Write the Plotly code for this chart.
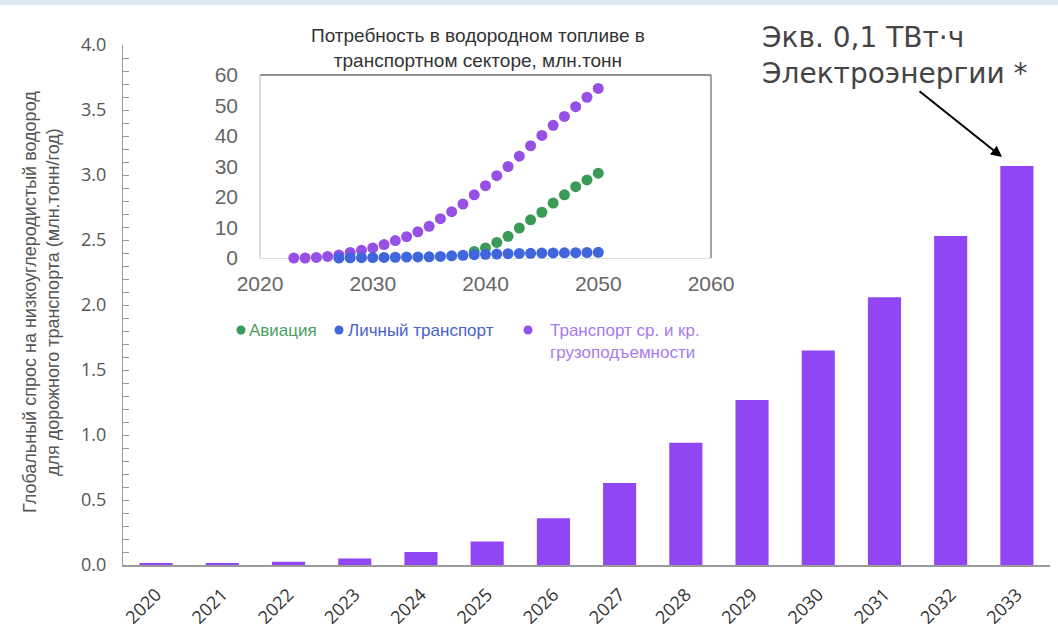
import plotly.graph_objects as go

# Main chart: global demand for low-carbon hydrogen in road transport
years = ["2020", "2021", "2022", "2023", "2024", "2025", "2026",
         "2027", "2028", "2029", "2030", "2031", "2032", "2033"]
demand = [0.012, 0.012, 0.025, 0.05, 0.10, 0.18, 0.36,
          0.63, 0.94, 1.27, 1.65, 2.06, 2.53, 3.07]

# Inset: hydrogen fuel demand in the transport sector, mln t
heavy_years = list(range(2023, 2051))
heavy = [0.0, 0.0, 0.2, 0.5, 1.0, 1.8, 2.5, 3.3, 4.4, 5.7, 7.0, 8.6, 10.4, 12.9,
         15.2, 17.7, 20.7, 23.7, 27.0, 30.0, 33.4, 36.8, 40.2, 43.5, 46.4,
         49.6, 52.7, 55.6]
aviation_years = list(range(2039, 2051))
aviation = [2.1, 3.3, 5.1, 7.1, 9.8, 12.5, 15.0, 18.0, 20.7, 23.4, 25.6, 27.8]
personal_years = list(range(2027, 2051))
personal = [0.0, 0.05, 0.1, 0.15, 0.2, 0.25, 0.3, 0.35, 0.4, 0.5, 0.7, 0.9,
            1.1, 1.2, 1.3, 1.4, 1.5, 1.55, 1.6, 1.65, 1.7, 1.75, 1.8, 1.85]

W, H = 1058, 641
ML, MR, MT, MB = 123, 8, 45, 76
PW, PH = W - ML - MR, H - MT - MB


def px_x(p):
    return (p - ML) / PW


def px_y(p):
    return (H - MB - p) / PH


BAR = "#9146F5"
PURPLE = "#9650E6"
GREEN = "#3A9A57"
BLUE = "#3F66DD"
SANS = "Liberation Sans, Arial, sans-serif"
OPEN = "Open Sans, sans-serif"

fig = go.Figure()
fig.add_trace(go.Bar(x=years, y=demand, marker=dict(color=BAR, line=dict(width=0)),
                     xaxis="x", yaxis="y", showlegend=False))

for xs, ys, col in [(heavy_years, heavy, PURPLE),
                    (aviation_years, aviation, GREEN),
                    (personal_years, personal, BLUE)]:
    fig.add_trace(go.Scatter(x=xs, y=ys, mode="markers", xaxis="x2", yaxis="y2",
                             marker=dict(size=11, color=col, line=dict(width=0)),
                             cliponaxis=False, showlegend=False))

inset_x = [px_x(260), px_x(711)]
inset_y = [px_y(258), px_y(75)]

shapes = [
    # thin band along the top edge
    dict(type="rect", xref="paper", yref="paper", x0=px_x(0), x1=px_x(W),
         y0=px_y(5), y1=px_y(0), fillcolor="#DCE7F4", line=dict(width=0), layer="below"),
    # inset frame
    dict(type="line", xref="x2 domain", yref="y2 domain", x0=0, x1=1, y0=1, y1=1,
         line=dict(color="#6E6E6E", width=1.3)),
    dict(type="line", xref="x2 domain", yref="y2 domain", x0=1, x1=1, y0=0, y1=1,
         line=dict(color="#6E6E6E", width=1.3)),
    dict(type="line", xref="x2 domain", yref="y2 domain", x0=0, x1=0, y0=0, y1=1,
         line=dict(color="#C8C8C8", width=1.3)),
    dict(type="line", xref="x2 domain", yref="y2 domain", x0=0, x1=1, y0=0, y1=0,
         line=dict(color="#D2D2D2", width=1.3), layer="below"),
]

legend_items = [
    (241, 247, "Авиация", GREEN, "#49A064"),
    (339, 346, "Личный транспорт", BLUE, "#4A61C9"),
    (528, 548, "Транспорт ср. и кр.<br>грузоподъемности", "#9350E8", "#A77BE9"),
]
annotations = []
for dot_x, text_x, label, dot_col, txt_col in legend_items:
    shapes.append(dict(type="circle", xref="paper", yref="paper",
                       xsizemode="pixel", ysizemode="pixel",
                       xanchor=px_x(dot_x), yanchor=px_y(330),
                       x0=-4.5, x1=4.5, y0=-4.5, y1=4.5,
                       fillcolor=dot_col, line=dict(width=0)))
    annotations.append(dict(xref="paper", yref="paper", x=px_x(text_x), y=px_y(319),
                            xanchor="left", yanchor="top", align="left",
                            text=label, showarrow=False,
                            font=dict(family=SANS, size=17, color=txt_col)))

annotations += [
    dict(xref="paper", yref="paper", x=px_x(478), y=px_y(48), xanchor="center",
         yanchor="middle", showarrow=False,
         text="Потребность в водородном топливе в<br>транспортном секторе, млн.тонн",
         font=dict(family=SANS, size=19, color="#333333")),
    dict(xref="paper", yref="paper", x=px_x(760), y=px_y(55), xanchor="left",
         yanchor="middle", align="left", showarrow=False,
         text="Экв. 0,1 ТВт·ч<br>Электроэнергии *",
         font=dict(family="DejaVu Sans, sans-serif", size=28, color="#444444")),
    dict(xref="paper", yref="paper", x=px_x(1002), y=px_y(157), ax=-84, ay=-67,
         text="", showarrow=True, arrowhead=2, arrowsize=1.1, arrowwidth=2,
         arrowcolor="#000000", standoff=0),
    # y-axis title of the bar chart
    dict(xref="paper", yref="paper", x=px_x(41), y=px_y(302), xanchor="center",
         yanchor="middle", textangle=-90, showarrow=False,
         text="Глобальный спрос на низкоуглеродистый водород<br>"
              "для дорожного транспорта (млн.тонн/год)",
         font=dict(family=SANS, size=18, color="#555555")),
]

fig.update_layout(
    width=W, height=H,
    margin=dict(l=ML, r=MR, t=MT, b=MB, autoexpand=False),
    paper_bgcolor="white", plot_bgcolor="white",
    bargap=0.5,
    showlegend=False,
    shapes=shapes,
    annotations=annotations,
    xaxis=dict(type="category", domain=[0, 1], showline=True, linecolor="#9A9A9A",
               linewidth=2, ticks="", tickangle=-45, showgrid=False,
               ticklabelstandoff=10,
               tickfont=dict(family=OPEN, size=18, color="#333333")),
    yaxis=dict(range=[0, 4.0], dtick=0.5, tickformat=".1f", showline=True,
               linecolor="#9A9A9A", linewidth=1, ticks="inside", ticklen=6,
               tickcolor="#9A9A9A", showgrid=False, zeroline=False,
               minor=dict(dtick=0.1, ticks="inside", ticklen=6, tickcolor="#9A9A9A"),
               ticklabelstandoff=12,
               tickfont=dict(family=OPEN, size=18, color="#555555")),
    xaxis2=dict(domain=inset_x, anchor="y2", range=[2020, 2060], dtick=10,
                showgrid=False, zeroline=False, showline=False, ticks="",
                ticklabelstandoff=11,
                tickfont=dict(family=SANS, size=21, color="#666666")),
    yaxis2=dict(domain=inset_y, anchor="x2", range=[0, 60], dtick=10,
                showgrid=False, zeroline=False, showline=False, ticks="",
                ticklabelstandoff=21,
                tickfont=dict(family=SANS, size=21, color="#666666")),
)

fig.write_html("out.html")
